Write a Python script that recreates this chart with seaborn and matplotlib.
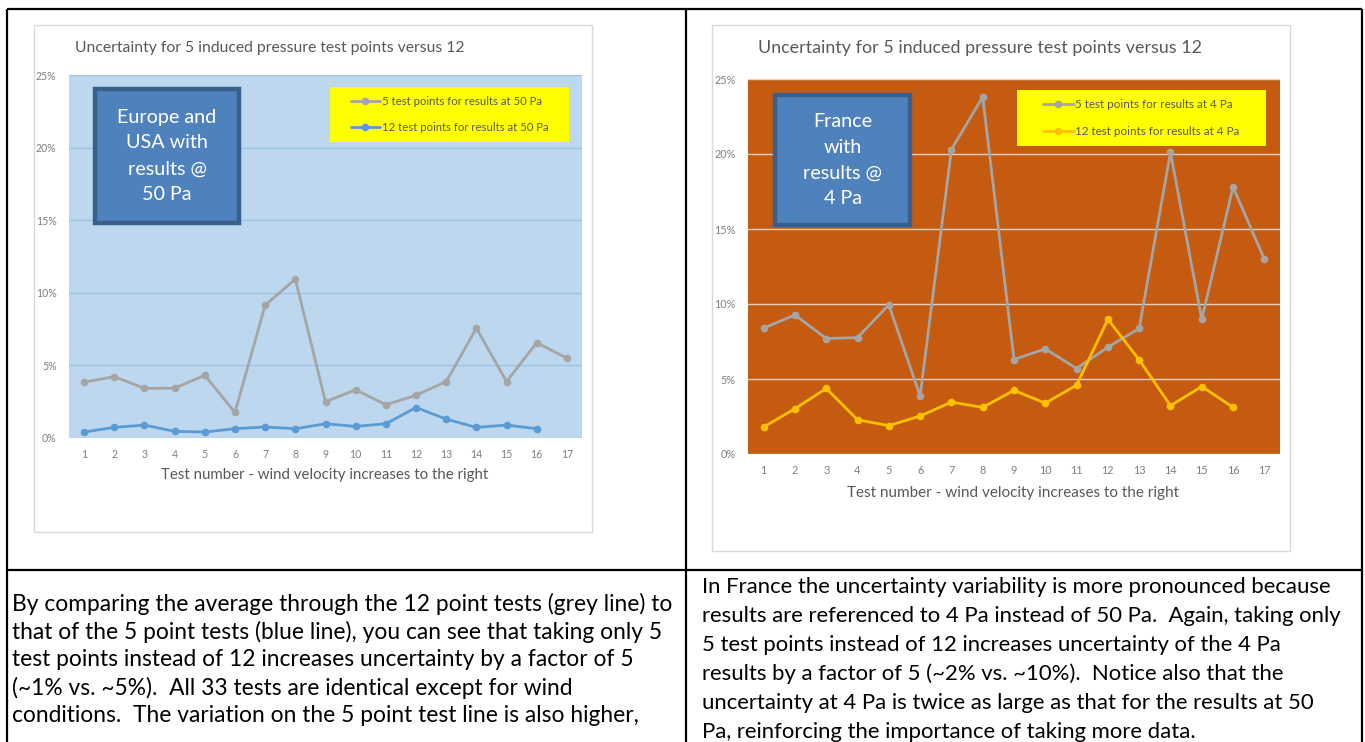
import numpy as np
import pandas as pd
import matplotlib.pyplot as plt
import seaborn as sns
from matplotlib.patches import Rectangle
from matplotlib.lines import Line2D
from matplotlib.ticker import FuncFormatter

sns.set_theme(style="white")
plt.rcParams['font.family'] = ['Lato', 'DejaVu Sans']

W, H = 1365, 742

# --- data (uncertainty in %) ---
tests = list(range(1, 18))
eu_5pt = [3.85, 4.22, 3.42, 3.43, 4.32, 1.76, 9.15, 10.94, 2.5, 3.32, 2.29, 2.94, 3.89, 7.56, 3.89, 6.56, 5.5]
eu_12pt = [0.41, 0.73, 0.89, 0.46, 0.41, 0.64, 0.76, 0.64, 0.98, 0.8, 0.98, 2.1, 1.3, 0.73, 0.89, 0.64]
fr_5pt = [8.39, 9.27, 7.7, 7.76, 9.95, 3.86, 20.3, 23.8, 6.3, 7.01, 5.7, 7.12, 8.37, 20.12, 8.98, 17.8, 12.98]
fr_12pt = [1.8, 3.02, 4.37, 2.28, 1.89, 2.53, 3.46, 3.11, 4.24, 3.39, 4.59, 8.98, 6.28, 3.22, 4.5, 3.11]

yticks = [0, 5, 10, 15, 20, 25]
chart_title = "Uncertainty for 5 induced pressure test points versus 12"
x_title = "Test number - wind velocity increases to the right"

eu_labels = ["5 test points for results at 50 Pa", "12 test points for results at 50 Pa"]
fr_labels = ["5 test points for results at 4 Pa", "12 test points for results at 4 Pa"]
eu_box = ["Europe and", "USA with", "results @", "50 Pa"]
fr_box = ["France", "with", "results @", "4 Pa"]

left_notes = [
    "By comparing the average through the 12 point tests (grey line) to",
    "that of the 5 point tests (blue line), you can see that taking only 5",
    "test points instead of 12 increases uncertainty by a factor of 5",
    "(~1% vs. ~5%).  All 33 tests are identical except for wind",
    "conditions.  The variation on the 5 point test line is also higher,",
]
right_notes = [
    "In France the uncertainty variability is more pronounced because",
    "results are referenced to 4 Pa instead of 50 Pa.  Again, taking only",
    "5 test points instead of 12 increases uncertainty of the 4 Pa",
    "results by a factor of 5 (~2% vs. ~10%).  Notice also that the",
    "uncertainty at 4 Pa is twice as large as that for the results at 50",
    "Pa, reinforcing the importance of taking more data.",
]


def fx(x):
    return x / W


def fy(y):
    return 1 - y / H


def fig_rect(x0, y0, x1, y1):
    return (fx(x0), fy(y1)), (x1 - x0) / W, (y1 - y0) / H


fig = plt.figure(figsize=(W / 100, H / 100), dpi=100)
fig.patch.set_facecolor("white")

# white chart frames with a faint grey edge
for x0, y0, x1, y1 in [(34, 25, 592, 532), (712, 25, 1290, 551)]:
    xy, w, h = fig_rect(x0, y0, x1, y1)
    fig.patches.append(Rectangle(xy, w, h, transform=fig.transFigure,
                                 facecolor="white", edgecolor="#d9d9d9", lw=1, zorder=-5))


def draw_panel(rect_px, series, colors, labels, bg, gridc, leg_px, box_px, box_lines,
               title_xy, xlab_xy, title_fs, xlab_fs, tick_fs, leg_fs, box_fs, box_step):
    xy, w, h = fig_rect(*rect_px)
    ax = fig.add_axes([xy[0], xy[1], w, h])
    ax.set_facecolor(bg)
    for vals, col, lab in zip(series, colors, labels):
        df = pd.DataFrame({"test": tests[:len(vals)], "unc": vals})
        sns.lineplot(data=df, x="test", y="unc", ax=ax, color=col, marker="o",
                     markersize=5.5, markeredgewidth=0, linewidth=2, label=lab, zorder=3)
    ax.set_xlim(0.5, 17.5)
    ax.set_ylim(0, 25)
    ax.set_yticks(yticks)
    ax.yaxis.set_major_formatter(FuncFormatter(lambda v, p: f"{v:.0f}%"))
    ax.set_xticks(tests)
    ax.grid(axis="y", color=gridc, lw=1)
    ax.grid(axis="x", visible=False)
    for s in ax.spines.values():
        s.set_visible(False)
    ax.tick_params(axis="both", length=0, colors="#7f7f7f", labelsize=tick_fs)
    ax.tick_params(axis="x", pad=8)
    ax.tick_params(axis="y", pad=9)
    ax.set_xlabel("")
    ax.set_ylabel("")

    # yellow legend box
    lx0, ly0, lx1, ly1 = leg_px
    lxy, lw_, lh_ = fig_rect(lx0, ly0, lx1, ly1)
    ax.add_patch(Rectangle(lxy, lw_, lh_, transform=fig.transFigure, facecolor="#ffff00",
                           edgecolor="none", zorder=4.5, clip_on=False))
    handles, labs = ax.get_legend_handles_labels()
    leg = ax.legend(handles, labs, loc="center",
                    bbox_to_anchor=(fx((lx0 + lx1) / 2), fy((ly0 + ly1) / 2)),
                    bbox_transform=fig.transFigure, frameon=False, fontsize=leg_fs,
                    labelcolor="#595959", handlelength=2.6, handletextpad=0.15,
                    labelspacing=1.3, borderpad=0)
    leg.set_zorder(6)

    # blue annotation box
    bx0, by0, bx1, by1 = box_px
    bxy, bw, bh = fig_rect(bx0 + 2, by0 + 2, bx1 - 2, by1 - 2)
    ax.add_patch(Rectangle(bxy, bw, bh, transform=fig.transFigure, facecolor="#4f81bd",
                           edgecolor="#3a5f8b", lw=3.2, zorder=4.5, clip_on=False))
    cy = (by0 + by1) / 2 - box_step * (len(box_lines) - 1) / 2
    for i, line in enumerate(box_lines):
        fig.text(fx((bx0 + bx1) / 2), fy(cy + i * box_step), line, ha="center", va="center",
                 color="white", fontsize=box_fs, zorder=7)

    fig.text(fx(title_xy[0]), fy(title_xy[1]), chart_title, ha="center", va="center",
             color="#595959", fontsize=title_fs)
    fig.text(fx(xlab_xy[0]), fy(xlab_xy[1]), x_title, ha="center", va="center",
             color="#595959", fontsize=xlab_fs)
    return ax


draw_panel((69, 75, 582, 438), [eu_5pt, eu_12pt], ["#a5a5a5", "#5b9bd5"], eu_labels,
           "#bdd7ee", "#9dc3e6", (330, 87, 569, 142), (93, 87, 241, 225), eu_box,
           (270, 48), (325, 475), 11.3, 10.8, 7.6, 8.2, 14.2, 26)
draw_panel((748, 79, 1280, 454), [fr_5pt, fr_12pt], ["#a5a5a5", "#ffc000"], fr_labels,
           "#c55a11", "#e2d0c4", (1017, 90, 1266, 146), (773, 93, 912, 227), fr_box,
           (980, 48), (1013, 493), 12.9, 11.0, 7.8, 8.4, 14.2, 25.5)

# table lines around the two cells
black = dict(color="black", lw=1.6, transform=fig.transFigure, solid_capstyle="butt")
for xs, ys in [((7, 7), (9, 742)), ((686, 686), (9, 742)), ((1362, 1362), (9, 742)),
               ((7, 1362), (9, 9)), ((7, 1362), (570, 570))]:
    fig.lines.append(Line2D([fx(xs[0]), fx(xs[1])], [fy(ys[0]), fy(ys[1])], **black))

# explanatory text under each chart
for i, line in enumerate(left_notes):
    fig.text(fx(12), fy(604 + i * 28), line, ha="left", va="center", fontsize=16.4, color="black")
for i, line in enumerate(right_notes):
    fig.text(fx(702), fy(587 + i * 29), line, ha="left", va="center", fontsize=15.9, color="black")

fig.savefig("out.png", dpi=100)
